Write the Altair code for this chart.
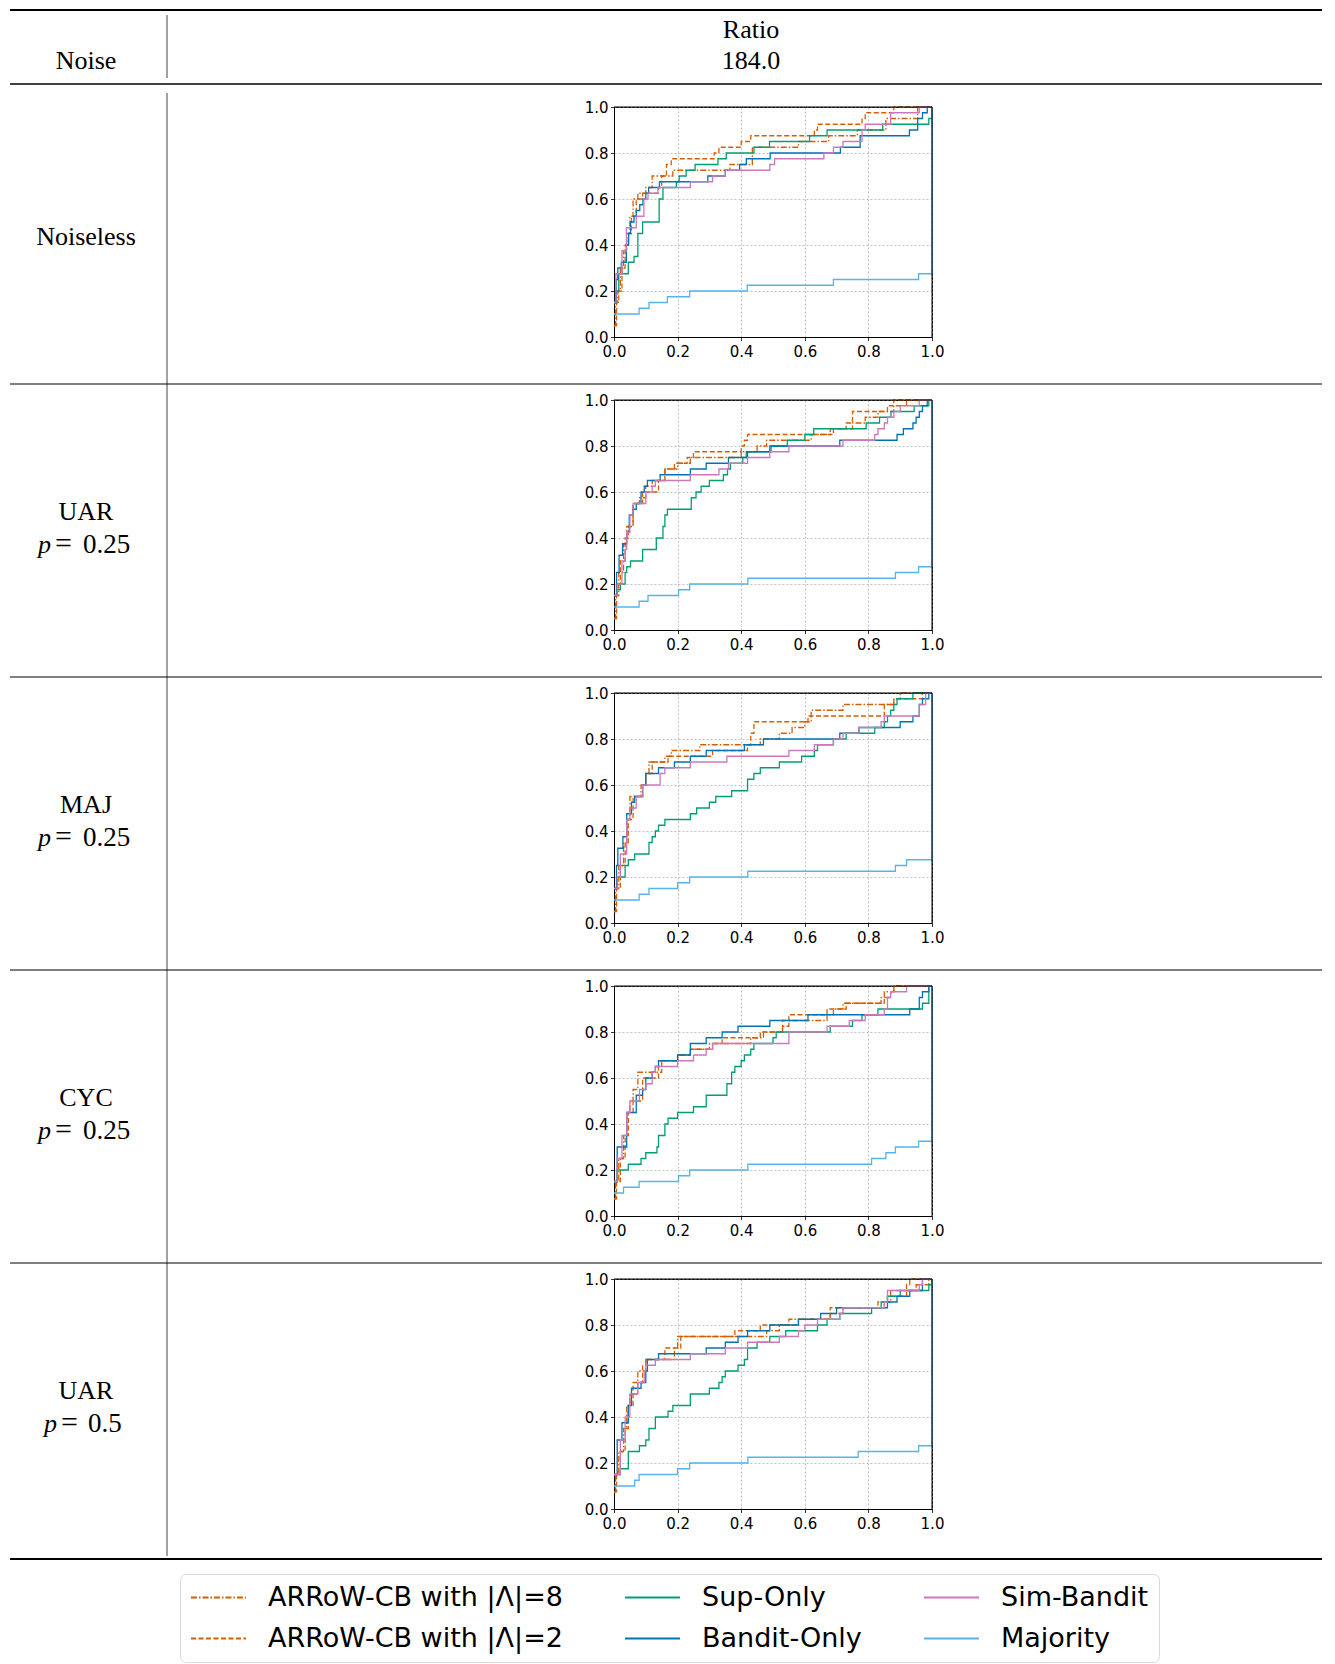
import altair as alt
import pandas as pd

# ---------------- series / style ----------------
SERIES = ["ARRoW-CB with |Λ|=8", "ARRoW-CB with |Λ|=2", "Sup-Only",
          "Bandit-Only", "Sim-Bandit", "Majority"]
COLORS = ["#D55E00", "#D55E00", "#029E73", "#0173B2", "#CC78BC", "#56B4E9"]
DASHES = [[6, 2, 1.5, 2], [5, 2.5], [1, 0], [1, 0], [1, 0], [1, 0]]

NOISE = ["Noiseless", "UAR", "MAJ", "CYC", "UAR"]
PVALS = [None, "0.25", "0.25", "0.25", "0.5"]
HEADER_LEFT = "Noise"
HEADER_TOP = ["Ratio", "184.0"]
TICKS = [0.0, 0.2, 0.4, 0.6, 0.8, 1.0]

# ---------------- data (step points: x, y after the step) ----------------
# Panel 1: Noiseless
p1_arrow8 = [(0, 0.05), (0.005, 0.15), (0.012, 0.2), (0.02, 0.3), (0.03, 0.375), (0.04, 0.45), (0.05, 0.525),
             (0.06, 0.6), (0.075, 0.625), (0.1, 0.65), (0.12, 0.7), (0.185, 0.725), (0.365, 0.75), (0.435, 0.825),
             (0.58, 0.85), (0.675, 0.875), (0.765, 0.9), (0.855, 0.95), (0.955, 1.0), (1.0, 1.0)]
p1_arrow2 = [(0, 0.05), (0.008, 0.15), (0.015, 0.2), (0.025, 0.3), (0.035, 0.4), (0.045, 0.45), (0.055, 0.525),
             (0.07, 0.6), (0.09, 0.625), (0.14, 0.65), (0.15, 0.7), (0.165, 0.75), (0.18, 0.775), (0.315, 0.8),
             (0.33, 0.825), (0.4, 0.85), (0.43, 0.875), (0.63, 0.9), (0.64, 0.925), (0.78, 0.95), (0.79, 0.975),
             (0.88, 1.0), (1.0, 1.0)]
p1_sup = [(0, 0.15), (0.005, 0.2), (0.015, 0.275), (0.045, 0.325), (0.063, 0.35), (0.075, 0.45), (0.09, 0.5),
          (0.142, 0.6), (0.154, 0.65), (0.196, 0.675), (0.205, 0.7), (0.227, 0.725), (0.255, 0.75), (0.327, 0.775),
          (0.353, 0.8), (0.44, 0.825), (0.489, 0.85), (0.615, 0.875), (0.67, 0.9), (0.845, 0.925), (0.99, 0.95),
          (1.0, 1.0)]
p1_bandit = [(0, 0.15), (0.007, 0.25), (0.012, 0.3), (0.023, 0.325), (0.039, 0.4), (0.046, 0.45), (0.052, 0.5),
             (0.063, 0.525), (0.07, 0.55), (0.081, 0.575), (0.091, 0.6), (0.1, 0.625), (0.109, 0.65), (0.143, 0.675),
             (0.295, 0.7), (0.35, 0.725), (0.395, 0.75), (0.416, 0.775), (0.491, 0.8), (0.712, 0.825), (0.774, 0.875),
             (0.929, 0.9), (0.955, 0.95), (0.97, 0.975), (0.985, 1.0), (1.0, 1.0)]
p1_sim = [(0, 0.15), (0.006, 0.275), (0.025, 0.375), (0.039, 0.475), (0.07, 0.525), (0.094, 0.6), (0.107, 0.625),
          (0.138, 0.65), (0.24, 0.675), (0.31, 0.7), (0.35, 0.725), (0.49, 0.75), (0.505, 0.775), (0.66, 0.8),
          (0.69, 0.825), (0.72, 0.85), (0.78, 0.9), (0.79, 0.925), (0.87, 0.975), (0.96, 1.0), (1.0, 1.0)]
p1_maj = [(0, 0.1), (0.079, 0.125), (0.11, 0.15), (0.168, 0.175), (0.238, 0.2), (0.419, 0.225), (0.69, 0.25),
          (0.958, 0.275), (1.0, 1.0)]

# Panel 2: UAR p=0.25
p2_arrow8 = [(0, 0.05), (0.005, 0.15), (0.015, 0.25), (0.03, 0.375), (0.04, 0.45), (0.06, 0.55), (0.08, 0.575),
             (0.1, 0.625), (0.12, 0.65), (0.16, 0.7), (0.2, 0.725), (0.24, 0.75), (0.4, 0.775), (0.45, 0.8),
             (0.48, 0.825), (0.62, 0.85), (0.68, 0.875), (0.75, 0.9), (0.79, 0.925), (0.83, 0.95), (0.88, 0.975),
             (0.92, 1.0), (1.0, 1.0)]
p2_arrow2 = [(0, 0.05), (0.008, 0.2), (0.02, 0.3), (0.035, 0.4), (0.045, 0.45), (0.06, 0.55), (0.09, 0.6),
             (0.14, 0.65), (0.16, 0.7), (0.19, 0.725), (0.23, 0.75), (0.25, 0.775), (0.4, 0.8), (0.41, 0.825),
             (0.42, 0.85), (0.69, 0.875), (0.73, 0.9), (0.75, 0.95), (0.86, 0.975), (0.88, 1.0), (1.0, 1.0)]
p2_sup = [(0, 0.15), (0.01, 0.175), (0.02, 0.2), (0.035, 0.25), (0.04, 0.275), (0.052, 0.3), (0.09, 0.35),
          (0.133, 0.4), (0.154, 0.45), (0.16, 0.5), (0.168, 0.525), (0.243, 0.575), (0.258, 0.6), (0.274, 0.625),
          (0.3, 0.65), (0.344, 0.675), (0.357, 0.7), (0.366, 0.725), (0.405, 0.75), (0.416, 0.775), (0.494, 0.8),
          (0.545, 0.825), (0.6, 0.85), (0.628, 0.875), (0.793, 0.9), (0.835, 0.925), (0.871, 0.95), (0.944, 0.975),
          (0.99, 1.0), (1.0, 1.0)]
p2_bandit = [(0, 0.15), (0.008, 0.25), (0.016, 0.325), (0.027, 0.375), (0.04, 0.425), (0.048, 0.5), (0.06, 0.525),
             (0.07, 0.55), (0.085, 0.6), (0.095, 0.625), (0.105, 0.65), (0.145, 0.675), (0.24, 0.7), (0.29, 0.725),
             (0.36, 0.75), (0.42, 0.775), (0.49, 0.8), (0.71, 0.825), (0.89, 0.85), (0.91, 0.875), (0.94, 0.9),
             (0.95, 0.925), (0.96, 0.95), (0.97, 0.975), (0.985, 1.0), (1.0, 1.0)]
p2_sim = [(0, 0.15), (0.01, 0.2), (0.025, 0.3), (0.035, 0.35), (0.04, 0.425), (0.05, 0.5), (0.06, 0.55), (0.1, 0.6),
          (0.12, 0.625), (0.13, 0.65), (0.24, 0.675), (0.33, 0.7), (0.36, 0.725), (0.42, 0.75), (0.49, 0.775),
          (0.55, 0.8), (0.72, 0.825), (0.82, 0.85), (0.83, 0.875), (0.85, 0.9), (0.86, 0.925), (0.88, 0.95),
          (0.9, 0.975), (0.96, 1.0), (1.0, 1.0)]
p2_maj = [(0, 0.1), (0.079, 0.125), (0.107, 0.15), (0.203, 0.175), (0.238, 0.2), (0.421, 0.225), (0.885, 0.25),
          (0.958, 0.275), (1.0, 1.0)]

# Panel 3: MAJ p=0.25
p3_arrow8 = [(0, 0.05), (0.005, 0.15), (0.015, 0.25), (0.03, 0.35), (0.04, 0.45), (0.05, 0.55), (0.085, 0.6),
             (0.1, 0.65), (0.11, 0.7), (0.16, 0.725), (0.18, 0.75), (0.27, 0.775), (0.46, 0.8), (0.52, 0.825),
             (0.56, 0.85), (0.6, 0.875), (0.62, 0.925), (0.72, 0.95), (0.88, 0.975), (0.9, 1.0), (1.0, 1.0)]
p3_arrow2 = [(0, 0.05), (0.008, 0.15), (0.02, 0.25), (0.035, 0.35), (0.045, 0.45), (0.06, 0.55), (0.09, 0.6),
             (0.1, 0.65), (0.12, 0.7), (0.17, 0.725), (0.31, 0.75), (0.42, 0.775), (0.43, 0.825), (0.44, 0.875),
             (0.61, 0.9), (0.85, 0.95), (0.88, 0.975), (0.97, 1.0), (1.0, 1.0)]
p3_sup = [(0, 0.15), (0.01, 0.2), (0.035, 0.25), (0.045, 0.275), (0.065, 0.3), (0.11, 0.35), (0.12, 0.375),
          (0.13, 0.4), (0.14, 0.425), (0.16, 0.45), (0.24, 0.475), (0.26, 0.5), (0.3, 0.525), (0.32, 0.55),
          (0.37, 0.575), (0.42, 0.625), (0.44, 0.65), (0.46, 0.675), (0.52, 0.7), (0.59, 0.725), (0.63, 0.75),
          (0.64, 0.775), (0.69, 0.8), (0.73, 0.825), (0.82, 0.85), (0.85, 0.875), (0.86, 0.9), (0.87, 0.925),
          (0.88, 0.95), (0.89, 0.975), (0.94, 1.0), (1.0, 1.0)]
p3_bandit = [(0, 0.15), (0.008, 0.25), (0.012, 0.325), (0.028, 0.375), (0.04, 0.475), (0.055, 0.525),
             (0.065, 0.55), (0.09, 0.6), (0.1, 0.65), (0.14, 0.675), (0.19, 0.7), (0.24, 0.725), (0.29, 0.75),
             (0.41, 0.775), (0.47, 0.8), (0.71, 0.825), (0.77, 0.85), (0.9, 0.875), (0.94, 0.9), (0.96, 0.95),
             (0.97, 0.975), (0.99, 1.0), (1.0, 1.0)]
p3_sim = [(0, 0.15), (0.01, 0.2), (0.02, 0.3), (0.04, 0.45), (0.05, 0.5), (0.07, 0.55), (0.09, 0.6), (0.145, 0.65),
          (0.16, 0.675), (0.24, 0.7), (0.355, 0.725), (0.55, 0.75), (0.63, 0.775), (0.69, 0.8), (0.72, 0.825),
          (0.77, 0.85), (0.84, 0.875), (0.85, 0.9), (0.96, 0.95), (0.98, 1.0), (1.0, 1.0)]
p3_maj = [(0, 0.1), (0.079, 0.125), (0.11, 0.15), (0.2, 0.175), (0.238, 0.2), (0.421, 0.225), (0.885, 0.25),
          (0.92, 0.275), (1.0, 1.0)]

# Panel 4: CYC p=0.25
p4_arrow8 = [(0, 0.075), (0.005, 0.15), (0.015, 0.25), (0.03, 0.35), (0.04, 0.45), (0.05, 0.5), (0.06, 0.55),
             (0.075, 0.625), (0.14, 0.675), (0.2, 0.7), (0.24, 0.725), (0.3, 0.75), (0.43, 0.775), (0.47, 0.8),
             (0.53, 0.825), (0.55, 0.85), (0.67, 0.875), (0.69, 0.9), (0.72, 0.925), (0.84, 0.95), (0.85, 0.975),
             (0.88, 1.0), (1.0, 1.0)]
p4_arrow2 = [(0, 0.075), (0.008, 0.15), (0.02, 0.25), (0.035, 0.35), (0.045, 0.45), (0.06, 0.5), (0.09, 0.6),
             (0.14, 0.625), (0.15, 0.675), (0.2, 0.7), (0.24, 0.725), (0.31, 0.75), (0.34, 0.775), (0.46, 0.8),
             (0.53, 0.85), (0.55, 0.875), (0.67, 0.9), (0.73, 0.925), (0.85, 0.95), (0.87, 0.975), (0.88, 1.0),
             (1.0, 1.0)]
p4_sup = [(0, 0.15), (0.01, 0.2), (0.045, 0.225), (0.085, 0.25), (0.1, 0.275), (0.135, 0.3), (0.14, 0.35),
          (0.16, 0.4), (0.17, 0.425), (0.2, 0.45), (0.25, 0.475), (0.29, 0.525), (0.355, 0.575), (0.37, 0.625),
          (0.38, 0.65), (0.4, 0.675), (0.41, 0.7), (0.43, 0.725), (0.44, 0.75), (0.5, 0.775), (0.51, 0.8),
          (0.68, 0.825), (0.75, 0.85), (0.78, 0.875), (0.83, 0.9), (0.97, 0.925), (0.99, 1.0), (1.0, 1.0)]
p4_bandit = [(0, 0.15), (0.01, 0.3), (0.04, 0.45), (0.07, 0.525), (0.09, 0.55), (0.1, 0.6), (0.12, 0.625),
             (0.13, 0.65), (0.14, 0.675), (0.2, 0.7), (0.24, 0.75), (0.29, 0.775), (0.34, 0.8), (0.39, 0.825),
             (0.49, 0.85), (0.61, 0.875), (0.93, 0.9), (0.96, 0.95), (0.97, 0.975), (0.99, 1.0), (1.0, 1.0)]
p4_sim = [(0, 0.15), (0.01, 0.25), (0.025, 0.35), (0.04, 0.45), (0.05, 0.5), (0.08, 0.55), (0.1, 0.575),
          (0.12, 0.625), (0.13, 0.65), (0.2, 0.675), (0.25, 0.7), (0.29, 0.725), (0.31, 0.75), (0.55, 0.8),
          (0.67, 0.825), (0.74, 0.85), (0.79, 0.875), (0.85, 0.9), (0.86, 0.95), (0.87, 0.975), (0.92, 1.0),
          (1.0, 1.0)]
p4_maj = [(0, 0.1), (0.03, 0.125), (0.079, 0.15), (0.203, 0.175), (0.238, 0.2), (0.421, 0.225), (0.81, 0.25),
          (0.855, 0.275), (0.885, 0.3), (0.958, 0.325), (1.0, 1.0)]

# Panel 5: UAR p=0.5
p5_arrow8 = [(0, 0.075), (0.005, 0.15), (0.015, 0.25), (0.03, 0.35), (0.04, 0.45), (0.05, 0.5), (0.075, 0.6),
             (0.1, 0.65), (0.19, 0.7), (0.2, 0.75), (0.48, 0.775), (0.52, 0.8), (0.55, 0.825), (0.68, 0.85),
             (0.72, 0.875), (0.85, 0.9), (0.87, 0.95), (0.95, 0.975), (0.99, 1.0), (1.0, 1.0)]
p5_arrow2 = [(0, 0.075), (0.008, 0.15), (0.02, 0.25), (0.035, 0.35), (0.045, 0.45), (0.06, 0.55), (0.09, 0.625),
             (0.1, 0.65), (0.16, 0.7), (0.21, 0.75), (0.38, 0.775), (0.46, 0.8), (0.58, 0.825), (0.68, 0.875),
             (0.83, 0.9), (0.86, 0.925), (0.92, 0.975), (0.93, 1.0), (1.0, 1.0)]
p5_sup = [(0, 0.15), (0.02, 0.175), (0.045, 0.25), (0.08, 0.275), (0.1, 0.3), (0.11, 0.35), (0.13, 0.4),
          (0.17, 0.425), (0.185, 0.45), (0.24, 0.5), (0.3, 0.525), (0.33, 0.55), (0.34, 0.575), (0.35, 0.6),
          (0.39, 0.625), (0.41, 0.65), (0.42, 0.7), (0.45, 0.725), (0.49, 0.75), (0.54, 0.775), (0.64, 0.8),
          (0.67, 0.825), (0.71, 0.85), (0.81, 0.875), (0.84, 0.9), (0.86, 0.925), (0.9, 0.95), (0.99, 0.975),
          (1.0, 1.0)]
p5_bandit = [(0, 0.15), (0.01, 0.3), (0.025, 0.375), (0.045, 0.45), (0.055, 0.525), (0.085, 0.55), (0.1, 0.6),
             (0.105, 0.65), (0.14, 0.675), (0.29, 0.7), (0.35, 0.725), (0.39, 0.75), (0.42, 0.775), (0.49, 0.8),
             (0.58, 0.825), (0.65, 0.85), (0.7, 0.875), (0.86, 0.9), (0.89, 0.925), (0.93, 0.95), (0.97, 1.0),
             (1.0, 1.0)]
p5_sim = [(0, 0.15), (0.02, 0.3), (0.035, 0.4), (0.05, 0.5), (0.075, 0.55), (0.095, 0.6), (0.1, 0.625),
          (0.13, 0.65), (0.24, 0.675), (0.35, 0.7), (0.42, 0.725), (0.52, 0.75), (0.58, 0.775), (0.6, 0.8),
          (0.64, 0.825), (0.71, 0.85), (0.72, 0.875), (0.85, 0.9), (0.86, 0.95), (0.96, 0.975), (0.97, 1.0),
          (1.0, 1.0)]
p5_maj = [(0, 0.1), (0.065, 0.125), (0.079, 0.15), (0.2, 0.175), (0.238, 0.2), (0.421, 0.225), (0.768, 0.25),
          (0.958, 0.275), (1.0, 1.0)]

# order matches SERIES
PANELS = [
    [p1_arrow8, p1_arrow2, p1_sup, p1_bandit, p1_sim, p1_maj],
    [p2_arrow8, p2_arrow2, p2_sup, p2_bandit, p2_sim, p2_maj],
    [p3_arrow8, p3_arrow2, p3_sup, p3_bandit, p3_sim, p3_maj],
    [p4_arrow8, p4_arrow2, p4_sup, p4_bandit, p4_sim, p4_maj],
    [p5_arrow8, p5_arrow2, p5_sup, p5_bandit, p5_sim, p5_maj],
]

# ---------------- layout constants (pixels relative to first plot origin) ----------------
PW, PH = 318, 230
ROW_STEP = 293
XL, XR = -604, 708          # table rule extent
VX = -447                   # vertical separator
SERIF = "Liberation Serif"

ONE = pd.DataFrame({"a": [0]})


def hrule(y, w=1.0, color="black", x1=XL, x2=XR):
    return alt.Chart(ONE).mark_rule(color=color, strokeWidth=w).encode(
        x=alt.value(x1), x2=alt.value(x2), y=alt.value(y))


def vrule(x, y1, y2, w=1.0, color="#444444"):
    return alt.Chart(ONE).mark_rule(color=color, strokeWidth=w).encode(
        x=alt.value(x), y=alt.value(y1), y2=alt.value(y2))


def text(t, x, y, size=26, align="center", style="normal"):
    return alt.Chart(pd.DataFrame({"t": [t]})).mark_text(
        font=SERIF, fontSize=size, align=align, baseline="alphabetic",
        fontStyle=style, color="black").encode(
        text="t:N", x=alt.value(x), y=alt.value(y))


def panel_df(series_lists):
    rows = []
    for name, pts in zip(SERIES, series_lists):
        for i, (x, y) in enumerate(pts):
            rows.append({"series": name, "x": x, "y": y, "i": i})
    return pd.DataFrame(rows)


def panel(series_lists):
    return alt.Chart(panel_df(series_lists)).mark_line(
        interpolate="step-after", strokeWidth=1.3).encode(
        x=alt.X("x:Q", scale=alt.Scale(domain=[0, 1], nice=False, zero=False),
                axis=alt.Axis(values=TICKS, format=".1f", title=None)),
        y=alt.Y("y:Q", scale=alt.Scale(domain=[0, 1], nice=False),
                axis=alt.Axis(values=TICKS, format=".1f", title=None)),
        color=alt.Color("series:N", scale=alt.Scale(domain=SERIES, range=COLORS), title=None),
        strokeDash=alt.StrokeDash("series:N", scale=alt.Scale(domain=SERIES, range=DASHES), title=None),
        order=alt.Order("i:Q"),
    )


def frame():
    # top and right spines of the plot box
    return [
        alt.Chart(ONE).mark_rule(color="black", strokeWidth=1).encode(
            x=alt.value(0), x2=alt.value(PW), y=alt.value(0)),
        alt.Chart(ONE).mark_rule(color="black", strokeWidth=1).encode(
            x=alt.value(PW), y=alt.value(0), y2=alt.value(PH)),
    ]


def row_label(k):
    layers = []
    if PVALS[k] is None:
        layers.append(text(NOISE[k], -528, 138))
    else:
        layers.append(text(NOISE[k], -528, 120))
        if len(PVALS[k]) > 3:
            px, ex, nx = -576, -559, -531
        else:
            px, ex, nx = -570, -553, -526
        layers.append(text("p", px, 153, align="left", style="italic"))
        layers.append(text("=", ex, 153, size=30, align="left"))
        layers.append(text(PVALS[k], nx, 153, size=27, align="left"))
    return layers


rows = []
for k in range(5):
    layers = [panel(PANELS[k])] + frame() + row_label(k)
    if k == 0:
        # header + table lines (all drawn relative to the first plot)
        layers += [
            hrule(-97, w=2.2),
            hrule(-23, w=1.3),
            vrule(VX, -92, -29),
            vrule(VX, -14, 1449),
            text(HEADER_LEFT, -528, -38),
            text(HEADER_TOP[0], 137, -69),
            text(HEADER_TOP[1], 137, -38),
        ]
        for r in range(1, 5):
            layers.append(hrule(277 + (r - 1) * ROW_STEP, w=1.2))
        layers.append(hrule(1452, w=2.2))
    rows.append(alt.layer(*layers).properties(width=PW, height=PH))

chart = alt.vconcat(*rows, spacing=ROW_STEP - PH, bounds="flush").properties(padding=0).configure_view(
    stroke="black", strokeWidth=1
).configure_axis(
    domainColor="black", domainWidth=1, tickColor="black", tickSize=3.5, tickWidth=0.8,
    labelFont="DejaVu Sans", labelFontSize=15, labelColor="black", labelFlush=False,
    labelOverlap=False,
    gridColor="#b0b0b0", gridDash=[2, 2], gridWidth=0.8,
).configure_axisX(labelPadding=3.5).configure_axisY(labelPadding=2.5).configure_legend(
    orient="none", legendX=-434, legendY=1467, columns=3, columnPadding=61, rowPadding=13,
    padding=10, labelFont="DejaVu Sans", labelFontSize=27, labelColor="black",
    symbolType="stroke", symbolSize=3025, symbolStrokeWidth=2, labelOffset=21, labelLimit=0,
    clipHeight=27, direction="vertical",
    strokeColor="#d9d9d9", fillColor="white", cornerRadius=6,
)

chart.save("out.html", embed_options={"renderer": "svg", "actions": False})
